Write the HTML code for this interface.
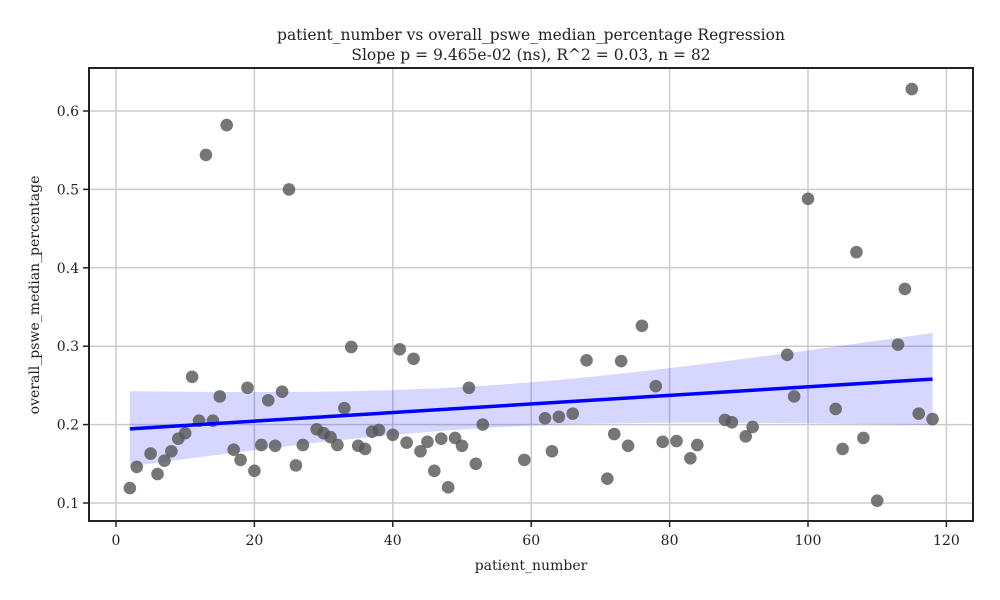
<!DOCTYPE html>
<html><head><meta charset="utf-8"><style>
body{margin:0;background:#fff;}
svg{display:block;font-family:"DejaVu Serif","Liberation Serif",serif;}
</style></head><body>
<svg id="chart" width="1000" height="600">
<text x="531" y="40" text-anchor="middle" font-size="15.5" fill="#222">patient_number vs overall_pswe_median_percentage Regression</text>
<text x="531" y="60" text-anchor="middle" font-size="15.5" fill="#222">Slope p = 9.465e-02 (ns), R^2 = 0.03, n = 82</text>
<g id="grid"></g><g id="band"></g><g id="pts"></g><g id="line"></g><g id="axes"></g>
<text x="531" y="570" text-anchor="middle" font-size="14" fill="#222">patient_number</text>
<text transform="translate(39,295) rotate(-90)" text-anchor="middle" font-size="14" fill="#222">overall_pswe_median_percentage</text>
</svg>
<script>
const xs=[2,3,5,6,7,8,9,10,11,12,13,14,15,16,17,18,19,20,21,22,23,24,25,26,27,29,30,31,32,33,34,35,36,37,38,40,41,42,43,44,45,46,47,48,49,50,51,52,53,59,62,63,64,66,68,71,72,73,74,76,78,79,81,83,84,88,89,91,92,97,98,100,104,105,107,108,110,113,114,115,116,118];
const ys=[0.119,0.146,0.163,0.137,0.154,0.166,0.182,0.189,0.261,0.205,0.544,0.205,0.236,0.582,0.168,0.155,0.247,0.141,0.174,0.231,0.173,0.242,0.500,0.148,0.174,0.194,0.189,0.184,0.174,0.221,0.299,0.173,0.169,0.191,0.193,0.187,0.296,0.177,0.284,0.166,0.178,0.141,0.182,0.120,0.183,0.173,0.247,0.150,0.200,0.155,0.208,0.166,0.210,0.214,0.282,0.131,0.188,0.281,0.173,0.326,0.249,0.178,0.179,0.157,0.174,0.206,0.203,0.185,0.197,0.289,0.236,0.488,0.220,0.169,0.420,0.183,0.103,0.302,0.373,0.628,0.214,0.207];
const xTicks=[0,20,40,60,80,100,120];
const yTicks=[0.1,0.2,0.3,0.4,0.5,0.6];
const L=89,R=973,T=68,B=521;
const X=v=>116+v*6.92, Y=v=>503-(v-0.1)*784;
const NS="http://www.w3.org/2000/svg";
function mk(p,t,a){const e=document.createElementNS(NS,t);for(const k in a)e.setAttribute(k,a[k]);document.getElementById(p).appendChild(e);return e;}
for(const t of xTicks){
 const g=mk('grid','line',{x1:X(t),x2:X(t),y1:T,y2:B,stroke:'#cccccc','stroke-width':1.5});
 
 const k=mk('axes','line',{x1:X(t),x2:X(t),y1:B,y2:B+6,stroke:'#222','stroke-width':1.5});
 
 const l=mk('axes','text',{x:X(t),y:B+24,'text-anchor':'middle','font-size':14,fill:'#222'});l.textContent=t;
 
}
for(const t of yTicks){
 const g=mk('grid','line',{x1:L,x2:R,y1:Y(t),y2:Y(t),stroke:'#cccccc','stroke-width':1.5});
 
 const k=mk('axes','line',{x1:L-6,x2:L,y1:Y(t),y2:Y(t),stroke:'#222','stroke-width':1.5});
 
 const l=mk('axes','text',{x:L-10,y:Y(t)+5,'text-anchor':'end','font-size':14,fill:'#222'});l.textContent=t.toFixed(1);
 
}
const fr=mk('axes','rect',{x:L,y:T,width:R-L,height:B-T,fill:'none',stroke:'#222','stroke-width':2});

const n=xs.length,mx=xs.reduce((a,b)=>a+b)/n,my=ys.reduce((a,b)=>a+b)/n;
let sxx=0,sxy=0;for(let i=0;i<n;i++){sxx+=(xs[i]-mx)**2;sxy+=(xs[i]-mx)*(ys[i]-my);}
const b1=sxy/sxx,b0=my-b1*mx;let sse=0;for(let i=0;i<n;i++)sse+=(ys[i]-b0-b1*xs[i])**2;
const s=Math.sqrt(sse/(n-2)),tc=2.45;
const x0=Math.min(...xs),x1=Math.max(...xs);let up=[],lo=[];
for(let k=0;k<=50;k++){const x=x0+(x1-x0)*k/50,yh=b0+b1*x,se=s*Math.sqrt(1/n+(x-mx)**2/sxx);
 up.push(X(x)+','+Y(yh+tc*se));lo.unshift(X(x)+','+Y(yh-tc*se));}
const band=mk('band','polygon',{points:up.concat(lo).join(' '),fill:'#0000ff','fill-opacity':0.16});

for(let i=0;i<n;i++){const c=mk('pts','circle',{cx:X(xs[i]),cy:Y(ys[i]),r:6.3,fill:'#555','fill-opacity':0.8});
 }
const ln=mk('line','line',{x1:X(x0),y1:Y(b0+b1*x0),x2:X(x1),y2:Y(b0+b1*x1),stroke:'#0000ff','stroke-width':3.5});

</script>
</body></html>
